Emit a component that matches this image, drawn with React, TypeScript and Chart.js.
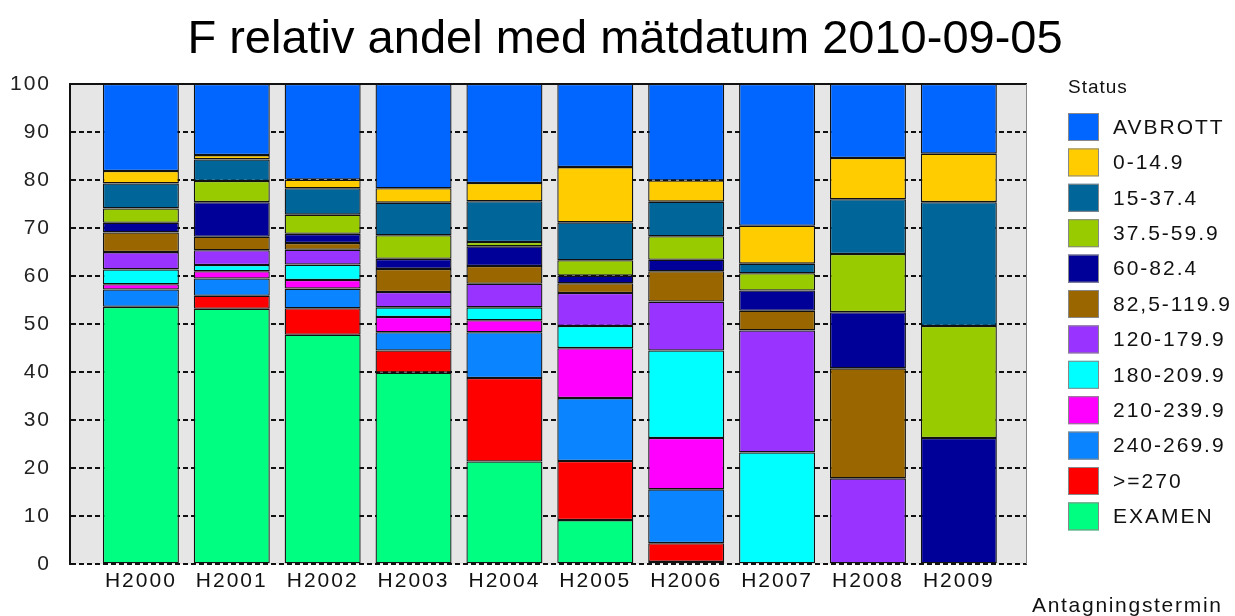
import React, { useEffect, useRef } from 'react';
import { Chart, registerables } from 'chart.js';

Chart.register(...registerables);

const titleText = 'F relativ andel med mätdatum 2010-09-05';
const legendTitle = 'Status';
const xAxisTitle = 'Antagningstermin';

const categories = ['H2000', 'H2001', 'H2002', 'H2003', 'H2004', 'H2005', 'H2006', 'H2007', 'H2008', 'H2009'];

// stacked bottom -> top
const examen = [53.6, 53.2, 47.8, 39.9, 21.4, 9.2, 0.5, 0, 0, 0];
const ge270 = [0, 2.7, 5.5, 4.6, 17.4, 12.3, 3.9, 0, 0, 0];
const p240 = [3.6, 3.6, 4.1, 3.8, 9.5, 13.1, 11.2, 0, 0, 0];
const p210 = [1.1, 1.5, 1.8, 3.2, 2.5, 10.4, 10.7, 0, 0, 0];
const p180 = [3.1, 1.3, 3.2, 2.0, 2.7, 4.6, 18.2, 23.3, 0, 0];
const p120 = [3.6, 3.1, 3.1, 3.2, 4.9, 6.9, 10.2, 25.4, 17.9, 0];
const p82 = [4.1, 2.8, 1.4, 4.8, 3.7, 2.0, 6.3, 4.1, 22.9, 0];
const p60 = [2.0, 7.2, 1.9, 2.1, 4.1, 1.6, 2.4, 4.2, 11.7, 26.3];
const p37 = [3.0, 4.4, 4.0, 4.9, 0.9, 3.2, 4.9, 3.6, 12.1, 23.3];
const p15 = [5.2, 4.5, 5.5, 6.8, 8.5, 7.9, 7.2, 2.0, 11.4, 25.8];
const p0 = [2.6, 0.9, 1.8, 3.0, 3.8, 11.5, 4.4, 7.9, 8.6, 10.1];
const avbrott = [18.1, 14.8, 19.9, 21.7, 20.6, 17.3, 20.1, 29.5, 15.4, 14.5];

const seriesLabels = ['EXAMEN', '>=270', '240-269.9', '210-239.9', '180-209.9', '120-179.9', '82,5-119.9', '60-82.4', '37.5-59.9', '15-37.4', '0-14.9', 'AVBROTT'];
const seriesColors = ['#00ff80', '#ff0000', '#0a84ff', '#ff00ff', '#00ffff', '#9933ff', '#996600', '#000099', '#99cc00', '#006699', '#ffcc00', '#0066ff'];
const seriesValues = [examen, ge270, p240, p210, p180, p120, p82, p60, p37, p15, p0, avbrott];

const yMin = 0;
const yMax = 100;
const yStep = 10;

const FONT = "'Liberation Sans', Arial, sans-serif";
const SPACING = '2px';

const setSpacing = (chart: any) => {
  try {
    chart.ctx.letterSpacing = SPACING;
  } catch (e) {
    /* ignore */
  }
};

const decorPlugin = {
  id: 'decor',
  beforeUpdate(chart: any) {
    setSpacing(chart);
  },
  beforeDraw(chart: any) {
    setSpacing(chart);
    const { ctx, chartArea: a } = chart;
    ctx.save();
    ctx.fillStyle = '#e6e6e6';
    ctx.fillRect(a.left, a.top, a.right - a.left, a.bottom - a.top);
    ctx.restore();
  },
  afterDatasetsDraw(chart: any) {
    const { ctx, chartArea: a } = chart;
    ctx.save();
    ctx.strokeStyle = '#111';
    ctx.lineWidth = 2;
    ctx.beginPath();
    ctx.moveTo(a.left, a.top);
    ctx.lineTo(a.right, a.top);
    ctx.stroke();
    ctx.strokeStyle = '#888';
    ctx.lineWidth = 1;
    ctx.beginPath();
    ctx.moveTo(a.right - 0.5, a.top);
    ctx.lineTo(a.right - 0.5, a.bottom);
    ctx.stroke();
    ctx.restore();
  },
  afterDraw(chart: any) {
    const { ctx } = chart;
    ctx.save();
    // title
    ctx.letterSpacing = '0px';
    ctx.fillStyle = '#000';
    ctx.font = `47px ${FONT}`;
    ctx.textAlign = 'center';
    ctx.textBaseline = 'alphabetic';
    ctx.fillText(titleText, 625, 53);
    // legend
    ctx.letterSpacing = '1px';
    ctx.textAlign = 'left';
    ctx.textBaseline = 'middle';
    ctx.font = `19px ${FONT}`;
    ctx.fillStyle = '#111';
    ctx.fillText(legendTitle, 1068, 88);
    ctx.letterSpacing = SPACING;
    const ds = chart.data.datasets;
    const n = ds.length;
    ctx.font = `21px ${FONT}`;
    for (let k = 0; k < n; k++) {
      const d = ds[n - 1 - k];
      const cy = 127 + k * 35.4;
      ctx.fillStyle = d.backgroundColor;
      ctx.fillRect(1068, cy - 14, 31, 28);
      ctx.strokeStyle = '#888';
      ctx.lineWidth = 1;
      ctx.strokeRect(1068.5, cy - 13.5, 30, 27);
      ctx.fillStyle = '#111';
      ctx.fillText(d.label, 1113, cy + 1);
    }
    // x axis title
    ctx.letterSpacing = '1.7px';
    ctx.font = `21px ${FONT}`;
    ctx.textBaseline = 'alphabetic';
    ctx.fillText(xAxisTitle, 1032, 612);
    ctx.restore();
  },
};

export default function App() {
  const ref = useRef<HTMLCanvasElement | null>(null);
  useEffect(() => {
    if (!ref.current) return;
    const chart = new Chart(ref.current, {
      type: 'bar',
      data: {
        datasets: seriesLabels.map((label, s) => ({
          label,
          data: seriesValues[s].map((v, i) => ({ x: i, y: v })),
          backgroundColor: seriesColors[s],
          borderColor: '#111',
          borderWidth: 1.3,
          borderSkipped: false,
          categoryPercentage: 1,
          barPercentage: 0.836,
        })),
      },
      options: {
        animation: false,
        responsive: true,
        maintainAspectRatio: false,
        layout: { padding: { left: 0, right: 208, top: 84, bottom: 18.5 } },
        plugins: {
          legend: { display: false },
          title: { display: false },
          tooltip: { enabled: false },
        },
        scales: {
          x: {
            type: 'linear',
            stacked: true,
            offset: false,
            min: -0.78,
            max: 9.75,
            afterBuildTicks: (scale: any) => {
              scale.ticks = categories.map((_, i) => ({ value: i }));
            },
            grid: { display: false, drawTicks: false },
            border: { display: false },
            ticks: {
              padding: 4,
              autoSkip: false,
              maxRotation: 0,
              color: '#111',
              font: { family: FONT, size: 21 },
              callback: (v: any) => categories[Math.round(Number(v))] ?? '',
            },
          },
          y: {
            stacked: true,
            min: yMin,
            max: yMax,
            afterFit: (scale: any) => {
              scale.width = 70;
            },
            grid: { color: '#111', lineWidth: 2, drawTicks: false },
            border: { display: true, color: '#111', width: 2, dash: [5, 3] },
            ticks: {
              stepSize: yStep,
              padding: 19,
              color: '#222',
              font: { family: FONT, size: 21 },
            },
          },
        },
      },
      plugins: [decorPlugin],
    } as any);
    return () => chart.destroy();
  }, []);
  return (
    <div style={{ position: 'absolute', left: 0, top: 0, width: 1235, height: 616, background: '#fff' }}>
      <canvas ref={ref} />
    </div>
  );
}
